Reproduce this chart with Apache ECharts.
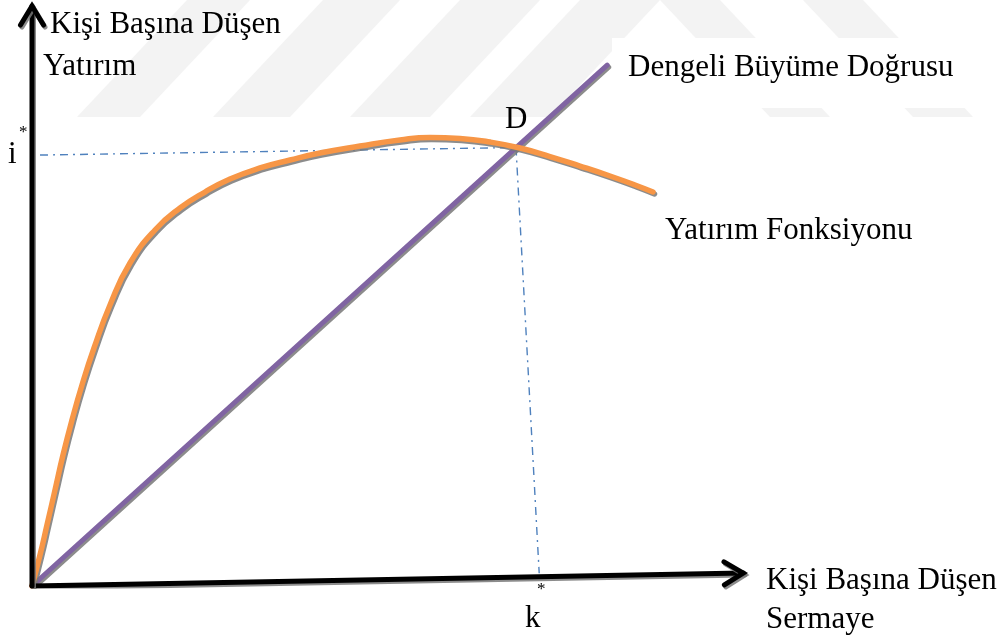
<!DOCTYPE html>
<html>
<head>
<meta charset="utf-8">
<script src="https://cdn.jsdelivr.net/npm/echarts@6/dist/echarts.min.js"></script>
<style>
  html, body { margin: 0; padding: 0; background: #ffffff; }
  #chart { width: 1008px; height: 635px; }
</style>
</head>
<body>
<div id="chart"></div>
<script>
// Per-capita investment function: rises steeply, peaks, then bends down.
const investmentCurve = [
  [0, 0], [1.0, 5.34], [1.875, 10.52], [2.875, 16.55], [3.875, 22.59],
  [5.0, 28.62], [6.25, 34.66], [7.75, 41.03], [9.75, 48.45], [12.25, 55.69],
  [15.375, 61.38], [18.5, 65.17], [21.625, 67.93], [24.75, 70.17], [28.5, 72.07],
  [32.25, 73.45], [36.0, 74.66], [41.0, 75.86], [46.0, 76.9], [49.75, 77.33],
  [53.5, 77.16], [57.25, 76.55], [61.0, 75.52], [64.75, 74.05], [68.5, 72.41],
  [72.25, 70.69], [75.375, 69.14], [77.625, 67.93]
];
// Balanced growth ray through the origin.
const growthLine = [[0, 0], [71.9, 89.8]];
// Equilibrium point D and its projections onto the axes.
const equilibrium = [60.5, 75.6];
const iStarGuide = [[1.0, 74.3], equilibrium];
const kStarGuide = [equilibrium, [63.4, 2.2]];
// Axis arrows (origin to tip).
const xAxisArrow = [[0, 0], [88.9, 2.24]];
const yAxisArrow = [[0, 0], [0, 100]];

const SERIF = "'Liberation Serif', 'Times New Roman', serif";
const shadow = { shadowColor: 'rgba(120,120,120,0.85)', shadowBlur: 0, shadowOffsetX: 1.5, shadowOffsetY: 2 };

const chart = echarts.init(document.getElementById('chart'), null, { renderer: 'canvas' });

function lineSeries(name, data, color, width, extra) {
  return Object.assign({
    name: name,
    type: 'line',
    data: data,
    showSymbol: false,
    symbol: 'none',
    animation: false,
    silent: true,
    lineStyle: Object.assign({ color: color, width: width, cap: 'round', join: 'round' }, shadow)
  }, extra || {});
}

// Faint diagonal watermark stripes in the background.
function stripe(bl, br, shift) {
  return {
    type: 'polygon', z: -5, silent: true,
    shape: { points: [[bl, 117], [br, 117], [br + shift, 0], [bl + shift, 0]] },
    style: { fill: '#f3f3f3' }
  };
}
const watermark = [
  stripe(77, 140, 110), stripe(213, 290, 110), stripe(350, 430, 110), stripe(470, 550, 110),
  stripe(770, 830, -110), stripe(913, 973, -110),
  { type: 'rect', z: -4, silent: true, shape: { x: 612, y: 38, width: 385, height: 70 }, style: { fill: '#ffffff' } }
];

function label(text, x, y, size) {
  return {
    type: 'text', z: 20, silent: true, x: x, y: y,
    style: { text: text, font: (size || 31) + 'px ' + SERIF, fill: '#000000', verticalAlign: 'middle', align: 'left' }
  };
}
const labels = [
  label('Kişi Başına Düşen', 50, 24.5),
  label('Yatırım', 43, 66.5),
  label('i', 8, 154.5),
  label('*', 19, 133, 17),
  label('D', 505, 119.5),
  label('Dengeli Büyüme Doğrusu', 628, 67.5),
  label('Yatırım Fonksiyonu', 665, 231),
  label('Kişi Başına Düşen', 766, 581),
  label('Sermaye', 766, 620),
  label('k', 525, 619),
  label('*', 537, 590, 17)
];

const option = {
  backgroundColor: '#ffffff',
  animation: false,
  grid: { left: 32, top: 6, width: 800, height: 580, containLabel: false },
  xAxis: { type: 'value', min: 0, max: 100, show: false },
  yAxis: { type: 'value', min: 0, max: 100, show: false },
  series: [
    lineSeries('kStar', kStarGuide, '#4f81bd', 1.3, { z: 3, lineStyle: { color: '#4f81bd', width: 1.4, type: [8, 5, 2, 5] } }),
    lineSeries('iStar', iStarGuide, '#4f81bd', 1.3, { z: 3, lineStyle: { color: '#4f81bd', width: 1.4, type: [8, 5, 2, 5] } }),
    lineSeries('Dengeli Büyüme Doğrusu', growthLine, '#8064a2', 5, { z: 4 }),
    lineSeries('Yatırım Fonksiyonu', investmentCurve, '#f79646', 5.5, { z: 5, smooth: 0.5 }),
    lineSeries('xAxis', xAxisArrow, '#000000', 5, { z: 6 }),
    lineSeries('yAxis', yAxisArrow, '#000000', 5, { z: 6 })
  ],
  graphic: { elements: watermark.concat(labels) }
};
chart.setOption(option);

// Open chevron arrowheads placed at the axis tips in pixel space.
function arrowHead(id, line) {
  const a = chart.convertToPixel({ gridIndex: 0 }, line[0]);
  const b = chart.convertToPixel({ gridIndex: 0 }, line[1]);
  const dx = b[0] - a[0], dy = b[1] - a[1];
  const len = Math.sqrt(dx * dx + dy * dy);
  const ux = dx / len, uy = dy / len;
  const nx = -uy, ny = ux;
  const back = 19, half = 11.5;
  return {
    id: id, type: 'polyline', z: 15, silent: true,
    shape: { points: [
      [b[0] - ux * back + nx * half, b[1] - uy * back + ny * half],
      [b[0], b[1]],
      [b[0] - ux * back - nx * half, b[1] - uy * back - ny * half]
    ] },
    style: Object.assign({ stroke: '#000000', lineWidth: 5, fill: null, lineJoin: 'miter', lineCap: 'round' }, shadow)
  };
}
chart.setOption({
  graphic: { elements: watermark.concat(labels, [arrowHead('ax', xAxisArrow), arrowHead('ay', yAxisArrow)]) }
});
</script>
</body>
</html>
